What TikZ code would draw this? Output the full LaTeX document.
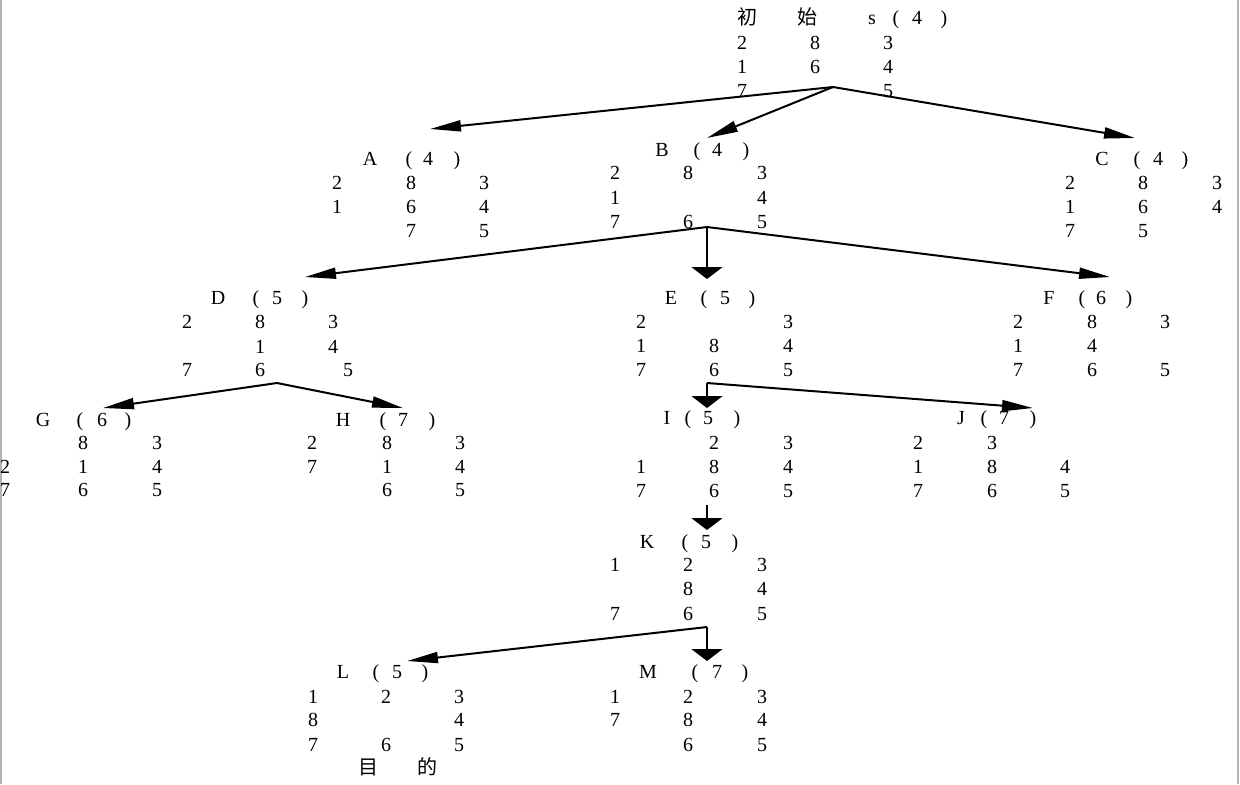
\documentclass[tikz,border=0pt]{standalone}
\usepackage{fontspec}
\setmainfont{Liberation Serif}
\newfontfamily\cjk{Noto Sans CJK SC}
\usetikzlibrary{arrows.meta}
\definecolor{frame}{HTML}{B4B4B4}

\begin{document}
\begin{tikzpicture}[x=0.5pt,y=-0.5pt,
  num/.style={inner sep=0pt,font=\fontsize{10}{12}\selectfont,text height=6.8pt,text depth=0pt},
  han/.style={num,font=\fontsize{10}{12}\selectfont\cjk},
  arr/.style={line width=1pt,-{Triangle[length=15.5pt,width=5.5pt]}},
  varr/.style={line width=1pt,-{Triangle[length=6pt,width=15.5pt]}}]
\useasboundingbox (0,0) rectangle (1240,784);
\draw[frame,line width=1pt] (1,0) -- (1,784);
\draw[frame,line width=1pt] (1238,0) -- (1238,784);
% start state s
\node[han] (s-a) at (747,18) {初};
\node[han] (s-b) at (807,18) {始};
\foreach \x/\y/\t [count=\i] in {872/18/s,896/18/{(},917/18/4,944/18/{)},
  742/43/2,815/43/8,888/43/3,742/67/1,815/67/6,888/67/4,742/91/7,888/91/5}
  \node[num] (s\i) at (\x,\y) {\t};
% A
\foreach \x/\y/\t [count=\i] in {370/159/A,409/159/{(},428/159/4,457/159/{)},
  337/183/2,411/183/8,484/183/3,337/207/1,411/207/6,484/207/4,411/231/7,484/231/5}
  \node[num] (A\i) at (\x,\y) {\t};
% B
\foreach \x/\y/\t [count=\i] in {662/150/B,697/150/{(},717/150/4,746/150/{)},
  615/173/2,688/173/8,762/173/3,615/198/1,762/198/4,615/222/7,688/222/6,762/222/5}
  \node[num] (B\i) at (\x,\y) {\t};
% C
\foreach \x/\y/\t [count=\i] in {1102/159/C,1137/159/{(},1158/159/4,1185/159/{)},
  1070/183/2,1143/183/8,1217/183/3,1070/207/1,1143/207/6,1217/207/4,1070/231/7,1143/231/5}
  \node[num] (C\i) at (\x,\y) {\t};
% D
\foreach \x/\y/\t [count=\i] in {218/298/D,256/298/{(},277/298/5,305/298/{)},
  187/322/2,260/322/8,333/322/3,260/347/1,333/347/4,187/370/7,260/370/6,348/370/5}
  \node[num] (D\i) at (\x,\y) {\t};
% E
\foreach \x/\y/\t [count=\i] in {671/298/E,704/298/{(},725/298/5,752/298/{)},
  641/322/2,788/322/3,641/346/1,714/346/8,788/346/4,641/370/7,714/370/6,788/370/5}
  \node[num] (E\i) at (\x,\y) {\t};
% F
\foreach \x/\y/\t [count=\i] in {1049/298/F,1082/298/{(},1101/298/6,1129/298/{)},
  1018/322/2,1092/322/8,1165/322/3,1018/346/1,1092/346/4,1018/370/7,1092/370/6,1165/370/5}
  \node[num] (F\i) at (\x,\y) {\t};
% G
\foreach \x/\y/\t [count=\i] in {43/420/G,80/420/{(},102/420/6,128/420/{)},
  83/443/8,157/443/3,5/467/2,83/467/1,157/467/4,5/490/7,83/490/6,157/490/5}
  \node[num] (G\i) at (\x,\y) {\t};
% H
\foreach \x/\y/\t [count=\i] in {343/420/H,383/420/{(},403/420/7,432/420/{)},
  312/443/2,387/443/8,460/443/3,312/467/7,387/467/1,460/467/4,387/490/6,460/490/5}
  \node[num] (H\i) at (\x,\y) {\t};
% I
\foreach \x/\y/\t [count=\i] in {667/418/I,688/418/{(},708/418/5,737/418/{)},
  714/443/2,788/443/3,641/467/1,714/467/8,788/467/4,641/491/7,714/491/6,788/491/5}
  \node[num] (I\i) at (\x,\y) {\t};
% J
\foreach \x/\y/\t [count=\i] in {961/418/J,984/418/{(},1004/418/7,1033/418/{)},
  918/443/2,992/443/3,918/467/1,992/467/8,1065/467/4,918/491/7,992/491/6,1065/491/5}
  \node[num] (J\i) at (\x,\y) {\t};
% K
\foreach \x/\y/\t [count=\i] in {647/542/K,685/542/{(},706/542/5,735/542/{)},
  615/565/1,688/565/2,762/565/3,688/589/8,762/589/4,615/614/7,688/614/6,762/614/5}
  \node[num] (K\i) at (\x,\y) {\t};
% L (goal)
\foreach \x/\y/\t [count=\i] in {343/672/L,376/672/{(},397/672/5,425/672/{)},
  313/697/1,386/697/2,459/697/3,313/720/8,459/720/4,313/745/7,386/745/6,459/745/5}
  \node[num] (L\i) at (\x,\y) {\t};
\node[han] (L-a) at (368,768) {目};
\node[han] (L-b) at (427,768) {的};
% M
\foreach \x/\y/\t [count=\i] in {648/672/M,695/672/{(},717/672/7,745/672/{)},
  615/697/1,688/697/2,762/697/3,615/720/7,688/720/8,762/720/4,688/745/6,762/745/5}
  \node[num] (M\i) at (\x,\y) {\t};
% branch points and arrow ends
\coordinate (s-out) at (833,87);
\coordinate (B-out) at (707,227);
\coordinate (D-out) at (277,383);
\coordinate (E-out) at (707,383);
\coordinate (I-out) at (707,505);
\coordinate (K-out) at (707,627);
\coordinate (A-in) at (430,129);
\coordinate (B-in) at (707,138);
\coordinate (C-in) at (1135,138);
\coordinate (D-in) at (305,277);
\coordinate (E-in) at (707,279);
\coordinate (F-in) at (1110,277);
\coordinate (G-in) at (103,408);
\coordinate (H-in) at (403,408);
\coordinate (I-in) at (707,408);
\coordinate (J-in) at (1033,408);
\coordinate (K-in) at (707,530);
\coordinate (L-in) at (407,661);
\coordinate (M-in) at (707,661);
\draw[arr] (s-out) -- (A-in);
\draw[arr] (s-out) -- (B-in);
\draw[arr] (s-out) -- (C-in);
\draw[arr] (B-out) -- (D-in);
\draw[varr] (B-out) -- (E-in);
\draw[arr] (B-out) -- (F-in);
\draw[arr] (D-out) -- (G-in);
\draw[arr] (D-out) -- (H-in);
\draw[varr] (E-out) -- (I-in);
\draw[arr] (E-out) -- (J-in);
\draw[varr] (I-out) -- (K-in);
\draw[arr] (K-out) -- (L-in);
\draw[varr] (K-out) -- (M-in);
\end{tikzpicture}
\end{document}
